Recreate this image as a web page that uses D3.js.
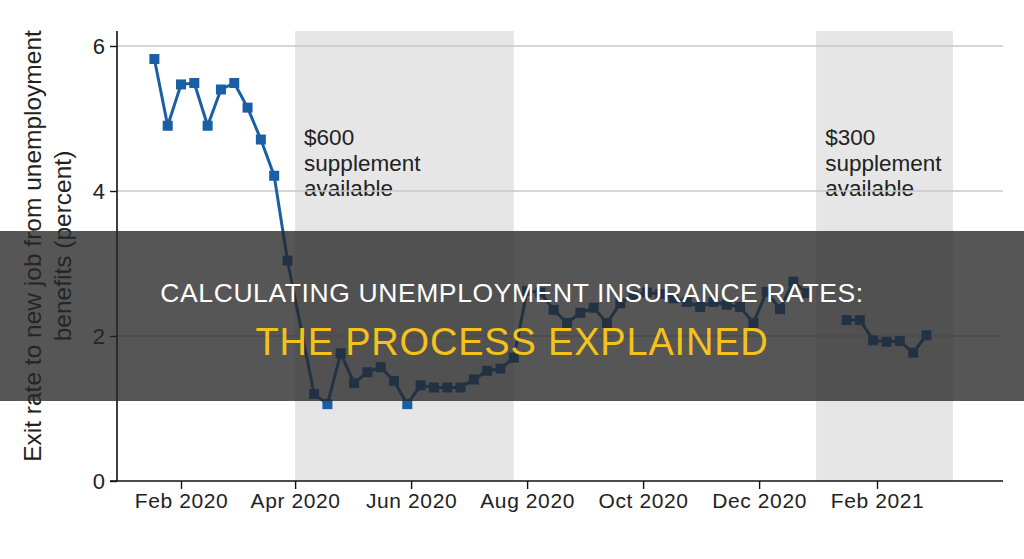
<!DOCTYPE html>
<html>
<head>
<meta charset="utf-8">
<script src="https://cdn.jsdelivr.net/npm/d3@7"></script>
<style>
  body { margin: 0; background: #fff; }
  svg { display: block; font-family: "Liberation Sans", Arial, Helvetica, sans-serif; }
</style>
</head>
<body>
<script>
// weekly exit rates (percent), null = no observation
const weeks = ["2020-01-18","2020-01-25","2020-02-01","2020-02-08","2020-02-15","2020-02-22","2020-02-29",
  "2020-03-07","2020-03-14","2020-03-21","2020-03-28","2020-04-11","2020-04-18","2020-04-25",
  "2020-05-02","2020-05-09","2020-05-16","2020-05-23","2020-05-30","2020-06-06","2020-06-13",
  "2020-06-20","2020-06-27","2020-07-04","2020-07-11","2020-07-18","2020-07-25","2020-08-01",
  "2020-08-08","2020-08-15","2020-08-22","2020-08-29","2020-09-05","2020-09-12","2020-09-19",
  "2020-09-26","2020-10-03","2020-10-10","2020-10-17","2020-10-24","2020-10-31","2020-11-07",
  "2020-11-14","2020-11-21","2020-11-28","2020-12-05","2020-12-12","2020-12-19","2020-12-26",
  "2021-01-02","2021-01-09","2021-01-16","2021-01-23","2021-01-30","2021-02-06","2021-02-13",
  "2021-02-20","2021-02-27"];
const exitRate = [5.82,4.90,5.47,5.49,4.90,5.40,5.49,
  5.15,4.71,4.21,3.04,1.20,1.06,1.76,
  1.35,1.50,1.57,1.38,1.06,1.32,1.29,
  1.29,1.29,1.40,1.52,1.55,1.70,2.62,
  2.60,2.36,2.18,2.32,2.39,2.18,2.45,
  2.56,2.60,2.58,2.52,2.47,2.40,2.47,
  2.43,2.40,2.18,2.61,2.37,2.75,2.59,
  null,null,2.22,2.22,1.94,1.92,1.93,
  1.77,2.01];

const periodStart = ["2020-04-01","2020-12-31"];
const periodEnd = ["2020-07-25","2021-03-13"];
const periodLabel = [["$600","supplement","available"],["$300","supplement","available"]];

const xTicks = ["2020-02-01","2020-04-01","2020-06-01","2020-08-01","2020-10-01","2020-12-01","2021-02-01"];
const yTicks = [0,2,4,6];

const title1 = "CALCULATING UNEMPLOYMENT INSURANCE RATES:";
const title2 = "THE PROCESS EXPLAINED";

const W = 1024, H = 559;
const parse = d3.utcParse("%Y-%m-%d");
const L = 117, R = 1003, T = 31, B = 481;

let svg = d3.select("body").append("svg")
  .attr("width", W).attr("height", H);

// calibrate time scale on two ticks then stretch to the frame
let x = d3.scaleUtc()
  .domain([parse("2020-02-01"), parse("2021-02-01")])
  .range([181, 877]);
x.domain([x.invert(L), x.invert(R)]).range([L, R]);

let y = d3.scaleLinear().domain([0, 6]).range([B, 46]);

let data = weeks.map(function(d, i){ return {date: parse(d), v: exitRate[i]}; });

// shaded supplement periods
periodStart.forEach(function(s, i){
  let x0 = x(parse(s)), x1 = x(parse(periodEnd[i]));
  svg.append("rect")
    .attr("x", x0).attr("y", T)
    .attr("width", x1 - x0).attr("height", B - T)
    .attr("fill", "#e6e6e6");
  let t = svg.append("text")
    .attr("x", x0 + 9).attr("y", 145)
    .attr("fill", "#222").attr("font-size", 22.5);
  periodLabel[i].forEach(function(line, j){
    t.append("tspan").attr("x", x0 + 9).attr("dy", j ? 25.5 : 0).text(line);
  });
});

// grid
svg.append("g").selectAll("line")
  .data(yTicks.filter(function(d){ return d > 0; }))
  .join("line")
  .attr("x1", L).attr("x2", R)
  .attr("y1", function(d){ return y(d); }).attr("y2", function(d){ return y(d); })
  .attr("stroke", "#c8c8c8").attr("stroke-width", 1.6);

// axes
let gx = svg.append("g")
  .attr("transform", "translate(0," + B + ")")
  .call(d3.axisBottom(x)
    .tickValues(xTicks.map(parse))
    .tickFormat(d3.utcFormat("%b %Y"))
    .tickSize(8).tickPadding(4).tickSizeOuter(0));
gx.attr("font-size", null).attr("font-family", null);
gx.select(".domain").attr("d", "M" + (L - 7) + ",0H" + R).attr("stroke", "#111").attr("stroke-width", 1.6);
gx.selectAll(".tick line").attr("stroke", "#111").attr("stroke-width", 1.4);
gx.selectAll("text").style("font-size", "21px").attr("letter-spacing", 0.6).attr("fill", "#222");

let gy = svg.append("g")
  .attr("transform", "translate(" + L + ",0)")
  .call(d3.axisLeft(y).tickValues(yTicks).tickFormat(d3.format("d"))
    .tickSize(7).tickPadding(5).tickSizeOuter(0));
gy.attr("font-size", null).attr("font-family", null);
gy.select(".domain").attr("d", "M0," + T + "V" + B).attr("stroke", "#111").attr("stroke-width", 1.6);
gy.selectAll(".tick line").attr("stroke", "#111").attr("stroke-width", 1.4);
gy.selectAll("text").style("font-size", "22px").attr("fill", "#222");

// y title
let yt = svg.append("text")
  .attr("transform", "translate(32,246) rotate(-90)")
  .attr("text-anchor", "middle").attr("fill", "#222").style("font-size", "24.5px");
yt.append("tspan").attr("x", 0).attr("dy", "0.35em").text("Exit rate to new job from unemployment");
yt.append("tspan").attr("x", 0).attr("dy", 30).text("benefits (percent)");

// series
let line = d3.line()
  .defined(function(d){ return d.v != null; })
  .x(function(d){ return x(d.date); })
  .y(function(d){ return y(d.v); });

svg.append("path")
  .datum(data)
  .attr("fill", "none")
  .attr("stroke", "#1a5ea6")
  .attr("stroke-width", 3)
  .attr("stroke-linejoin", "round")
  .attr("d", line);

svg.append("g").selectAll("rect")
  .data(data.filter(function(d){ return d.v != null; }))
  .join("rect")
  .attr("x", function(d){ return x(d.date) - 5; })
  .attr("y", function(d){ return y(d.v) - 5; })
  .attr("width", 10).attr("height", 10)
  .attr("fill", "#1a5ea6");

// title banner
svg.append("rect")
  .attr("x", 0).attr("y", 231).attr("width", W).attr("height", 170)
  .attr("fill", "rgba(38,38,38,0.78)");

svg.append("text")
  .attr("x", W / 2).attr("y", 302)
  .attr("text-anchor", "middle")
  .attr("fill", "#fff").style("font-size", "26.5px").attr("letter-spacing", 0.6)
  .text(title1);

svg.append("text")
  .attr("x", W / 2).attr("y", 355)
  .attr("text-anchor", "middle")
  .attr("fill", "#f5c21b").style("font-size", "38px").attr("letter-spacing", 0.8)
  .text(title2);
</script>
</body>
</html>
